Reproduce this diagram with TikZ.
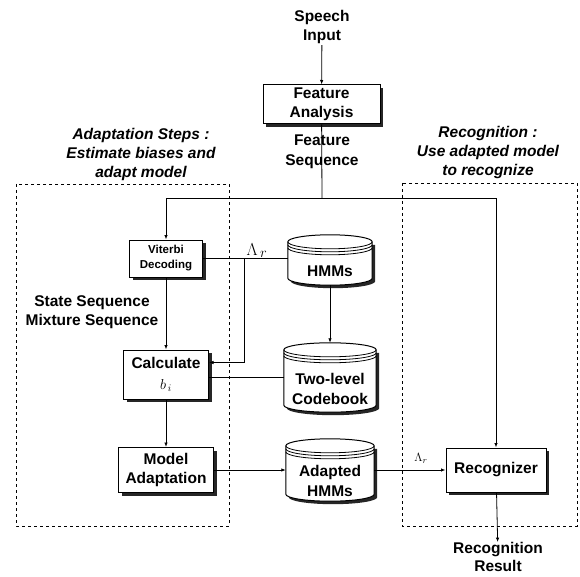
\documentclass[tikz,border=0pt]{standalone}
\usepackage{fontspec}
\setmainfont{Liberation Sans}
\usetikzlibrary{arrows,arrows.meta,calc,shadows,backgrounds}

\tikzset{
  box/.style={draw, line width=1pt, fill=white, align=center, inner sep=1pt,
    font=\bfseries\fontsize{15.5}{19.5}\selectfont,
    drop shadow={shadow xshift=3pt, shadow yshift=-3pt, fill=black!85, opacity=1}},
  drum/.style={inner sep=0pt},
  lbl/.style={align=center, inner sep=1pt, font=\bfseries\fontsize{15.5}{19.5}\selectfont},
  note/.style={align=center, inner sep=1pt, font=\bfseries\itshape\fontsize{15.5}{19}\selectfont},
  dashbox/.style={dashed, line width=0.8pt},
  link/.style={line width=0.8pt},
}

% cylinder outline round an empty node
\newcommand{\drum}[1]{%
  \begin{scope}[on background layer]
    \path[fill=black!85] let \p1=(#1.north west), \p2=(#1.south east), \n1={(\x2-\x1)/2} in
      (\x1+3pt,\y1-10pt) -- (\x1+3pt,\y2+4pt)
      arc[start angle=180, end angle=360, x radius=\n1, y radius=7pt]
      -- (\x2+3pt,\y1-10pt) -- cycle;
    \path[draw, fill=white, line width=1pt] let \p1=(#1.north west), \p2=(#1.south east), \n1={(\x2-\x1)/2} in
      (\x1,\y1-7pt) -- (\x1,\y2+7pt)
      arc[start angle=180, end angle=360, x radius=\n1, y radius=7pt]
      -- (\x2,\y1-7pt)
      arc[start angle=0, end angle=180, x radius=\n1, y radius=7pt] -- cycle;
    \draw[line width=0.8pt] let \p1=(#1.north west), \p2=(#1.south east), \n1={(\x2-\x1)/2} in
      (\x1,\y1-7pt) arc[start angle=180, end angle=360, x radius=\n1, y radius=7pt]
      (\x1,\y1-10pt) arc[start angle=180, end angle=360, x radius=\n1, y radius=7pt]
      (\x1,\y1-13pt) arc[start angle=180, end angle=360, x radius=\n1, y radius=7pt];
  \end{scope}}

\begin{document}
\begin{tikzpicture}[x=1pt, y=-1pt, >={Latex[length=4.5pt,width=3.5pt]}]
\useasboundingbox (0,0) rectangle (580,577);

% dashed frames
\draw[dashbox] (16,184) rectangle (229,526);
\draw[dashbox] (402,183) rectangle (577,526);

\node[note] (adtxt) at (141,154) {Adaptation Steps :\\Estimate biases and\\adapt model};
\node[note] (rctxt) at (488,152) {Recognition :\\Use adapted model\\to recognize};

\node[lbl] (sp) at (322,27) {Speech\\Input};
\node[box, minimum width=117pt, minimum height=39pt] (fa) at (321.5,104.5) {Feature\\Analysis};
\node[lbl] (fs) at (322,152) {Feature\\Sequence};
\coordinate (bus) at (322,198);

\node[box, minimum width=73pt, minimum height=37pt,
  font=\bfseries\fontsize{11.5}{15}\selectfont] (vit) at (166,258.5) {Viterbi\\Decoding};
\node[lbl] (ss) at (92,312) {State Sequence\\Mixture Sequence};
\node[box, minimum width=85pt, minimum height=49pt] (calc) at (166,374.5)
  {Calculate\\[1pt]{\normalfont\fontsize{14}{14}\selectfont$b_{\,i}$}};
\node[box, minimum width=95pt, minimum height=45pt] (madapt) at (166,470) {Model\\Adaptation};

\node[drum, minimum width=84pt, minimum height=50pt] (hmm) at (330,260) {};
\node[drum, minimum width=92pt, minimum height=69pt] (cb) at (330,377.5) {};
\node[drum, minimum width=88pt, minimum height=62pt] (ahmm) at (330,470) {};
\drum{hmm}
\drum{cb}
\drum{ahmm}
\node[lbl] (hmmtxt) at (330,271) {HMMs};
\node[lbl] (cbtxt) at (330,389) {Two-level\\Codebook};
\node[lbl] (ahmmtxt) at (330,481) {Adapted\\HMMs};

\node[box, minimum width=100pt, minimum height=44pt] (recog) at (496,470) {Recognizer};
\node[lbl, inner sep=0pt, font=\bfseries\fontsize{15.5}{18}\selectfont] (res) at (498,557) {Recognition\\Result};

\coordinate (tap) at (244,258.5);
\node[anchor=south, inner sep=1pt, font=\fontsize{19}{19}\selectfont] (lr1) at (257,259) {$\Lambda_{\,r}$};
\node[font=\fontsize{13}{13}\selectfont] (lr2) at (421,458) {$\Lambda_r$};

\draw[link,->] (sp) -- (fa);
\draw[link] (fa) -- (bus);
\draw[link,->] (bus) -| (vit);
\draw[link,->] (bus) -| (recog);
\draw[link] (vit.east) -- (vit.east -| hmm.west);
\draw[link,->] (tap) |- ([yshift=12pt]calc.east);
\draw[link] (cb.west) -- (cb.west -| calc.east);
\draw[link,->] (hmm) -- (cb);
\draw[link,->] (vit) -- (calc);
\draw[link,->] (calc) -- (madapt);
\draw[link,->] (madapt) -- (ahmm);
\draw[link,->] (ahmm) -- (recog);
\draw[link,->] (recog) -- (res);

\end{tikzpicture}
\end{document}
